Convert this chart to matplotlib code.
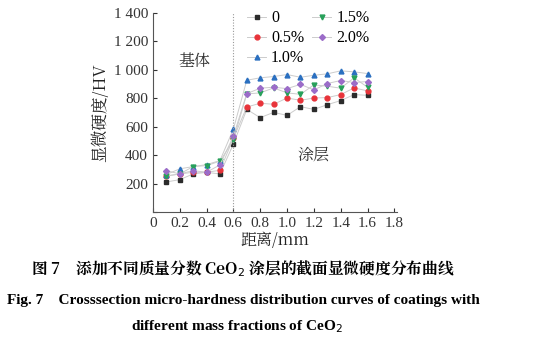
import matplotlib

matplotlib.use("Agg")
import matplotlib.pyplot as plt
from matplotlib.ticker import FuncFormatter

plt.rcParams["font.family"] = ["Liberation Serif", "Noto Serif CJK SC", "Noto Sans CJK SC"]

# distance from substrate (mm)
dist = [0.1, 0.2, 0.3, 0.4, 0.5, 0.6, 0.7, 0.8, 0.9, 1.0, 1.1, 1.2, 1.3, 1.4, 1.5, 1.6]

hv_0 = [212, 228, 268, 280, 268, 478, 722, 664, 701, 680, 741, 722, 755, 784, 826, 821]
hv_05 = [254, 268, 280, 280, 294, 518, 739, 765, 758, 802, 786, 802, 805, 826, 873, 852]
hv_10 = [264, 304, 320, 334, 362, 584, 927, 944, 953, 967, 948, 962, 972, 993, 986, 974]
hv_15 = [254, 268, 320, 327, 358, 506, 831, 838, 873, 838, 828, 894, 885, 871, 944, 878]
hv_20 = [292, 268, 292, 280, 332, 534, 833, 871, 878, 868, 898, 859, 904, 925, 911, 918]

labels = ["0", "0.5%", "1.0%", "1.5%", "2.0%"]
series = [hv_0, hv_05, hv_10, hv_15, hv_20]
colors = ["#2b2b2b", "#e8333a", "#2a6fc0", "#27a05a", "#9b6cc8"]
markers = ["s", "o", "^", "v", "D"]
msizes = [3, 3.5, 3.5, 3.5, 3]

cjk = ["Noto Serif CJK SC", "Noto Sans CJK SC", "Liberation Serif"]
en = ["Liberation Serif", "Noto Serif CJK SC", "Noto Sans CJK SC"]

fig = plt.figure(figsize=(5.6, 3.5), dpi=100)
ax = fig.add_axes([0.273, 0.394, 0.436, 0.569])

for y, lab, c, m, ms in zip(series, labels, colors, markers, msizes):
    ax.plot(dist, y, color="#cccccc", lw=0.7, marker=m, ms=ms,
            mfc=c, mec=c, label=lab)

ax.axvline(0.6, color="#999999", lw=0.8, ls=(0, (1, 1.5)))

ax.set_xlim(0, 1.82)
ax.set_ylim(0, 1400)
ax.set_xticks([0, 0.2, 0.4, 0.6, 0.8, 1.0, 1.2, 1.4, 1.6, 1.8])
ax.set_yticks(range(0, 1401, 200))
ax.xaxis.set_major_formatter(FuncFormatter(lambda v, p: "0" if v == 0 else f"{v:.1f}"))
ax.yaxis.set_major_formatter(FuncFormatter(
    lambda v, p: f"{int(v) // 1000} {int(v) % 1000:03d}" if v >= 1000 else ("" if v == 0 else f"{int(v)}")))
ax.tick_params(direction="in", length=3, width=0.8, labelsize=11, colors="#333333")
for s in ["top", "right"]:
    ax.spines[s].set_visible(False)
for s in ["left", "bottom"]:
    ax.spines[s].set_color("#555555")

ax.set_xlabel("距离/mm", fontsize=11.5, family=cjk, labelpad=1, color="#222222")
ax.set_ylabel("显微硬度/HV", fontsize=12, family=cjk, labelpad=3, color="#222222")

ax.text(0.31, 1060, "基体", fontsize=11.5, ha="center", va="center", family=cjk, color="#333333")
ax.text(1.2, 400, "涂层", fontsize=11.5, ha="center", va="center", family=cjk, color="#333333")

leg = ax.legend(ncol=2, loc="upper left", bbox_to_anchor=(0.36, 1.045), frameon=False,
                fontsize=11.5, handlelength=1.2, handletextpad=0.3, columnspacing=0.5,
                labelspacing=0.25, borderaxespad=0)

cx = 0.434
fig.text(cx, 0.233, "图 7　添加不同质量分数 CeO$_2$ 涂层的截面显微硬度分布曲线", ha="center",
         va="center", fontsize=11.3, fontweight="bold", family=cjk)
fig.text(cx, 0.142, "Fig. 7　Crosssection micro-hardness distribution curves of coatings with",
         ha="center", va="center", fontsize=11, fontweight="bold", family=en)
fig.text(cx - 0.01, 0.068, "different mass fractions of CeO$_2$", ha="center", va="center",
         fontsize=11, fontweight="bold", family=en)

fig.savefig("out.png", dpi=100)
